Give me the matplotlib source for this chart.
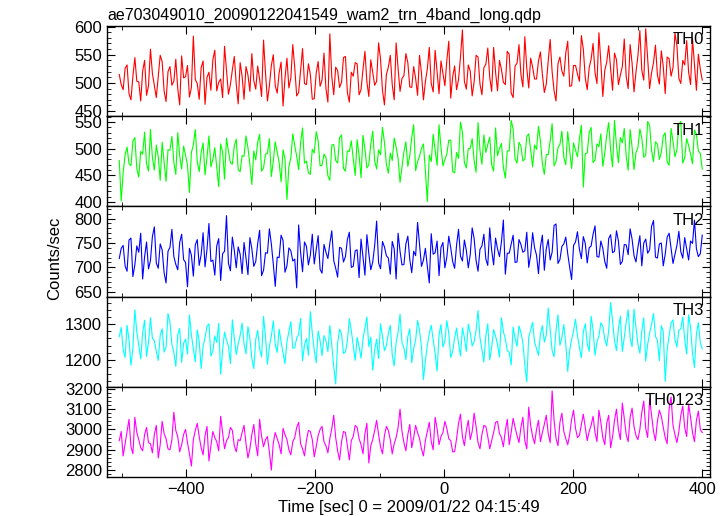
import numpy as np
import matplotlib
matplotlib.use("Agg")
import matplotlib.pyplot as plt
from matplotlib.ticker import MultipleLocator

plt.rcParams['font.family'] = ['Liberation Sans', 'DejaVu Sans']

title = "ae703049010_20090122041549_wam2_trn_4band_long.qdp"
xlabel = "Time [sec] 0 = 2009/01/22 04:15:49"
ylabel = "Counts/sec"
t_start, t_end = -504, 400
panel_names = ["TH0", "TH1", "TH2", "TH3", "TH0123"]
colors = ["#ff0000", "#00ff00", "#0000ff", "#00ffff", "#ff00ff"]

th0 = [515, 497, 488, 526, 532, 481, 470, 512, 545, 503, 502, 468, 521, 540, 478, 495, 560, 517, 495, 474,
       512, 549, 538, 486, 467, 520, 529, 496, 503, 542, 490, 461, 548, 509, 511, 531, 475, 492, 583, 506,
       499, 471, 527, 539, 462, 510, 519, 487, 541, 558, 486, 501, 507, 474, 565, 523, 480, 497, 523, 547,
       498, 463, 536, 512, 471, 529, 514, 485, 552, 504, 489, 530, 506, 476, 576, 518, 468, 495, 531, 550,
       495, 482, 518, 537, 459, 508, 544, 491, 509, 568, 527, 477, 483, 521, 561, 499, 497, 534, 515, 471,
       472, 517, 538, 494, 505, 553, 490, 466, 587, 511, 479, 528, 522, 492, 501, 545, 547, 483, 466, 519,
       512, 536, 534, 479, 488, 524, 556, 502, 476, 541, 519, 496, 503, 571, 542, 487, 461, 515, 528, 549,
       497, 470, 571, 526, 485, 508, 513, 552, 536, 493, 492, 529, 508, 478, 549, 517, 470, 502, 525, 563,
       499, 484, 558, 520, 481, 539, 517, 495, 540, 574, 473, 511, 530, 488, 506, 546, 594, 503, 489, 532,
       521, 477, 502, 549, 546, 498, 479, 527, 533, 562, 510, 485, 563, 519, 486, 540, 524, 501, 497, 556,
       551, 482, 474, 530, 535, 568, 515, 493, 582, 526, 491, 544, 528, 507, 507, 539, 555, 515, 483, 498,
       539, 577, 520, 486, 468, 534, 546, 521, 512, 553, 574, 494, 495, 531, 531, 516, 503, 584, 560, 509,
       488, 527, 542, 570, 518, 499, 589, 536, 476, 522, 537, 566, 525, 487, 553, 541, 497, 514, 529, 578,
       511, 490, 568, 535, 484, 519, 548, 593, 522, 505, 596, 543, 490, 518, 536, 567, 514, 498, 557, 529,
       481, 546, 543, 512, 527, 589, 566, 508, 499, 540, 532, 575, 519, 497, 578, 533, 487, 551, 524, 505]

th1 = [478, 402, 455, 489, 503, 472, 468, 514, 521, 463, 447, 495, 490, 531, 472, 458, 536, 484, 460, 507,
       485, 441, 512, 476, 439, 498, 497, 523, 475, 452, 530, 487, 462, 505, 488, 469, 418, 493, 507, 536,
       476, 457, 493, 511, 451, 484, 524, 466, 480, 502, 466, 429, 509, 494, 443, 520, 495, 474, 471, 505,
       518, 461, 457, 487, 486, 524, 502, 470, 433, 496, 479, 512, 527, 458, 464, 490, 491, 519, 448, 477,
       513, 494, 474, 438, 498, 481, 405, 467, 483, 528, 506, 486, 461, 511, 539, 473, 477, 455, 452, 499,
       492, 532, 515, 468, 469, 490, 484, 449, 441, 507, 508, 478, 473, 521, 526, 463, 458, 496, 495, 515,
       481, 450, 517, 488, 446, 525, 500, 464, 470, 509, 533, 477, 462, 498, 489, 540, 512, 471, 454, 492,
       478, 520, 503, 482, 437, 466, 494, 513, 467, 487, 521, 545, 459, 476, 486, 501, 509, 459, 401, 488,
       476, 527, 498, 469, 545, 503, 468, 480, 490, 516, 516, 457, 455, 493, 482, 550, 531, 474, 464, 500,
       501, 519, 478, 456, 549, 497, 471, 526, 493, 508, 522, 470, 458, 539, 487, 500, 510, 465, 445, 496,
       496, 553, 537, 481, 473, 512, 505, 477, 481, 523, 528, 498, 466, 507, 499, 542, 515, 472, 452, 489,
       489, 515, 547, 468, 476, 502, 508, 533, 484, 470, 532, 497, 463, 511, 497, 485, 519, 544, 428, 491,
       492, 530, 540, 474, 479, 509, 504, 528, 467, 492, 525, 549, 498, 466, 553, 506, 474, 521, 511, 538,
       486, 460, 536, 503, 461, 493, 502, 537, 520, 484, 488, 551, 544, 497, 476, 513, 509, 480, 493, 524,
       530, 475, 469, 538, 514, 485, 498, 546, 551, 473, 483, 519, 506, 490, 472, 535, 527, 496, 491, 462]

th2 = [718, 739, 745, 703, 692, 756, 760, 681, 705, 744, 731, 770, 676, 722, 752, 697, 714, 763, 783, 709,
       698, 748, 736, 689, 668, 733, 741, 778, 722, 706, 695, 751, 768, 716, 710, 660, 739, 725, 682, 746,
       757, 704, 726, 771, 701, 737, 790, 712, 715, 684, 744, 759, 673, 728, 733, 806, 708, 693, 762, 735,
       699, 742, 727, 687, 751, 719, 685, 761, 738, 702, 712, 749, 776, 683, 694, 730, 729, 779, 748, 707,
       661, 721, 720, 766, 755, 690, 703, 740, 734, 713, 717, 658, 787, 731, 691, 752, 743, 705, 725, 768,
       707, 736, 765, 696, 688, 747, 731, 718, 749, 775, 714, 698, 680, 741, 739, 711, 722, 757, 772, 700,
       702, 734, 736, 679, 758, 721, 684, 767, 728, 695, 711, 745, 795, 709, 697, 753, 742, 724, 719, 686,
       753, 738, 676, 770, 733, 705, 706, 748, 764, 716, 689, 733, 724, 792, 747, 702, 715, 739, 702, 668,
       769, 727, 730, 754, 683, 741, 751, 699, 721, 764, 740, 712, 698, 746, 778, 723, 713, 756, 735, 699,
       726, 781, 759, 714, 692, 737, 744, 768, 717, 704, 781, 735, 705, 760, 738, 722, 752, 797, 686, 729,
       729, 748, 766, 710, 711, 757, 747, 731, 734, 772, 700, 725, 771, 740, 725, 687, 742, 766, 694, 738,
       757, 715, 731, 786, 789, 708, 716, 743, 748, 762, 728, 700, 675, 745, 752, 773, 737, 718, 763, 749,
       709, 740, 744, 768, 785, 722, 721, 754, 739, 712, 698, 759, 767, 730, 733, 775, 754, 706, 712, 747,
       746, 726, 779, 758, 724, 711, 741, 765, 703, 750, 758, 729, 736, 784, 796, 721, 719, 748, 750, 703,
       727, 762, 770, 739, 708, 727, 745, 774, 732, 719, 761, 738, 715, 754, 749, 797, 738, 722, 728, 766]

th3 = [1265, 1291, 1228, 1207, 1297, 1256, 1185, 1233, 1340, 1278, 1242, 1203, 1276, 1311, 1210, 1249, 1318, 1261, 1254, 1223,
       1199, 1269, 1287, 1222, 1236, 1330, 1305, 1244, 1221, 1182, 1270, 1288, 1193, 1247, 1258, 1216, 1326, 1270, 1231, 1195,
       1284, 1252, 1176, 1239, 1262, 1294, 1301, 1211, 1225, 1267, 1249, 1302, 1160, 1228, 1278, 1255, 1239, 1190, 1312, 1262,
       1215, 1245, 1268, 1303, 1245, 1217, 1293, 1259, 1204, 1176, 1257, 1283, 1230, 1209, 1322, 1264, 1188, 1238, 1266, 1309,
       1243, 1221, 1286, 1251, 1219, 1190, 1251, 1279, 1307, 1233, 1234, 1261, 1272, 1316, 1198, 1242, 1260, 1213, 1335, 1275,
       1227, 1192, 1281, 1254, 1212, 1268, 1254, 1223, 1296, 1241, 1181, 1133, 1247, 1286, 1273, 1218, 1222, 1253, 1315, 1282,
       1240, 1199, 1263, 1237, 1205, 1259, 1289, 1320, 1237, 1264, 1171, 1228, 1258, 1204, 1301, 1266, 1226, 1240, 1274, 1297,
       1214, 1183, 1249, 1277, 1328, 1249, 1233, 1201, 1266, 1287, 1192, 1232, 1255, 1310, 1283, 1236, 1145, 1198, 1241, 1274,
       1297, 1256, 1218, 1169, 1270, 1299, 1236, 1253, 1310, 1275, 1207, 1224, 1262, 1289, 1247, 1211, 1290, 1262, 1224, 1300,
       1276, 1239, 1251, 1283, 1338, 1262, 1229, 1194, 1268, 1301, 1200, 1235, 1285, 1267, 1243, 1208, 1318, 1279, 1259, 1226,
       1221, 1186, 1292, 1260, 1238, 1295, 1277, 1248, 1186, 1139, 1264, 1283, 1305, 1250, 1232, 1213, 1271, 1296, 1250, 1269,
       1345, 1287, 1226, 1209, 1283, 1326, 1241, 1262, 1299, 1245, 1168, 1227, 1257, 1281, 1314, 1268, 1235, 1206, 1279, 1301,
       1246, 1224, 1322, 1285, 1213, 1250, 1267, 1304, 1294, 1258, 1239, 1281, 1360, 1309, 1254, 1226, 1288, 1322, 1223, 1263,
       1306, 1340, 1262, 1237, 1342, 1291, 1244, 1219, 1281, 1318, 1197, 1243, 1275, 1299, 1330, 1266, 1255, 1198, 1296, 1279,
       1140, 1229, 1268, 1303, 1312, 1257, 1236, 1283, 1287, 1320, 1258, 1217, 1326, 1291, 1219, 1179, 1273, 1304, 1248, 1231]

th0123 = [2945, 2990, 2870, 2930, 2990, 3050, 2915, 2880, 3060, 2985, 2950, 2910, 2895, 2975, 3010, 2935, 2930, 2885, 2975, 3020,
          2860, 2925, 3040, 2980, 2955, 2905, 2900, 2950, 3085, 2995, 2965, 2890, 2925, 2975, 3000, 2935, 2880, 2820, 2950, 2995,
          3030, 2965, 2910, 2875, 2970, 3015, 2845, 2920, 2990, 2960, 2940, 2895, 3065, 2985, 2905, 2945, 2960, 3010, 2995, 2920,
          2890, 2950, 2945, 2985, 3020, 2930, 2860, 2905, 2975, 3025, 2930, 2870, 3050, 2965, 2915, 2950, 2965, 2890, 2800, 2935,
          2985, 2955, 2925, 2880, 3005, 2975, 2950, 2900, 2875, 2940, 2960, 3010, 3035, 2930, 2905, 2870, 2945, 2995, 2990, 2950,
          2865, 2915, 2970, 3000, 3015, 2940, 2920, 2885, 2955, 3005, 3070, 2960, 2895, 2850, 2940, 2990, 2985, 2920, 2850, 2945,
          2965, 3020, 3010, 2955, 2925, 2880, 2980, 3030, 2835, 2920, 2950, 2995, 3045, 2975, 2915, 2880, 2970, 3015, 2995, 2950,
          2880, 2930, 2960, 3010, 3100, 2990, 2935, 2895, 2975, 3025, 2910, 2960, 3020, 2985, 2955, 2905, 2870, 2945, 2990, 3035,
          2940, 2900, 3060, 3005, 2925, 2965, 2985, 3040, 3005, 2955, 2945, 2890, 2890, 2955, 3030, 3075, 2965, 2920, 2995, 3045,
          2950, 2990, 3080, 3015, 2935, 2905, 2975, 3020, 3015, 2965, 2905, 2945, 2985, 3035, 3040, 2980, 2960, 2915, 2995, 3050,
          2925, 2985, 3055, 3010, 2970, 2935, 3010, 3060, 2945, 2905, 3110, 3020, 2965, 2930, 3000, 3045, 2940, 2985, 3025, 3070,
          2980, 2935, 3190, 3045, 2955, 2920, 3035, 3080, 2990, 2955, 2925, 2975, 3050, 3095, 3005, 2960, 2970, 3025, 3075, 3010,
          2945, 2990, 3020, 3065, 2985, 2940, 3095, 3035, 2960, 2925, 3030, 3070, 2910, 2965, 3045, 3100, 3000, 2950, 3130, 3055,
          2975, 2940, 3060, 3105, 3015, 2970, 2950, 3000, 3085, 3140, 3005, 2960, 3150, 3070, 2990, 2945, 3040, 3095, 3065, 3010,
          2960, 2930, 3100, 3160, 3020, 2975, 2935, 2990, 3070, 3115, 3010, 2965, 3125, 3060, 2985, 2940, 3045, 3090, 3000, 2985]

series = [th0, th1, th2, th3, th0123]
ylims = [(441, 601), (392, 561), (640, 825), (1125, 1377), (2766, 3210)]
ymajor = [50, 50, 50, 100, 100]
yminor = [10, 10, 10, 20, 20]

fig = plt.figure(figsize=(7.23, 5.16), dpi=100)
left, right = 107 / 723, 710 / 723
top, bottom = 1 - 26 / 516, 1 - 477 / 516
h = (top - bottom) / 5

for i, (vals, name, col) in enumerate(zip(series, panel_names, colors)):
    ax = fig.add_axes([left, top - (i + 1) * h, right - left, h])
    t = np.linspace(t_start, t_end, len(vals))
    ax.plot(t, vals, color=col, lw=0.8)
    ax.set_xlim(-523, 412)
    ax.set_ylim(*ylims[i])
    ax.yaxis.set_major_locator(MultipleLocator(ymajor[i]))
    ax.yaxis.set_minor_locator(MultipleLocator(yminor[i]))
    ax.xaxis.set_major_locator(MultipleLocator(200))
    ax.xaxis.set_minor_locator(MultipleLocator(100))
    ax.tick_params(which='both', direction='in', top=True, right=True, labelsize=12)
    ax.tick_params(which='major', length=6)
    ax.tick_params(which='minor', length=3)
    for s in ax.spines.values():
        s.set_linewidth(1.0)
    ax.text(0.99, 0.93, name, transform=ax.transAxes, ha='right', va='top', fontsize=12)
    if i < 4:
        ax.tick_params(labelbottom=False)
    else:
        ax.set_xlabel(xlabel, fontsize=12, labelpad=2)

fig.text(left, 1 - 15 / 516, title, ha='left', va='center', fontsize=11.5)
fig.text(55 / 723, 0.5, ylabel, rotation=90, ha='center', va='center', fontsize=12)

fig.savefig("out.png", dpi=100)
